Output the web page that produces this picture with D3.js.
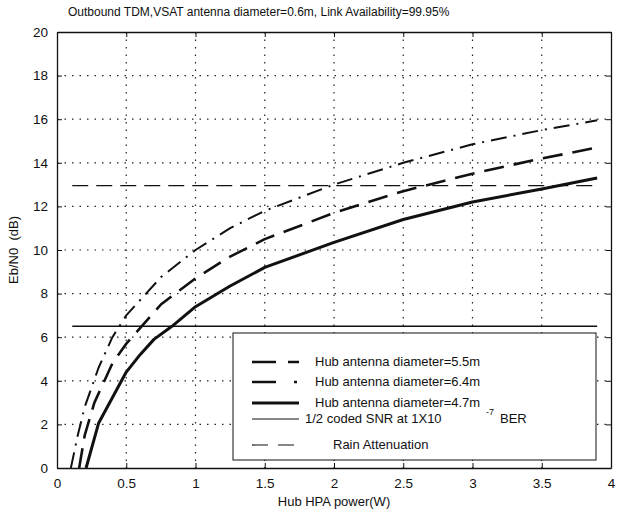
<!DOCTYPE html>
<html>
<head>
<meta charset="utf-8">
<script src="https://cdn.jsdelivr.net/npm/d3@7"></script>
<style>
  body { margin: 0; background: #fff; }
  text { font-family: "Liberation Sans", Arial, sans-serif; fill: #111; white-space: pre; }
</style>
</head>
<body>
<svg id="chart" width="620" height="513"></svg>
<script>
// power (W) and Eb/N0 (dB)
const hub64X = [0.1, 0.15, 0.2, 0.3, 0.4, 0.5, 0.75, 1, 1.25, 1.5, 2, 2.5, 3, 3.5, 3.9];
const hub64Y = [0, 1.5, 2.8, 4.6, 6.0, 7.0, 8.75, 10.0, 11.0, 11.8, 13.0, 14.0, 14.85, 15.5, 15.95];
const hub55X = [0.16, 0.2, 0.27, 0.4, 0.5, 0.75, 1, 1.25, 1.5, 2, 2.5, 3, 3.5, 3.9];
const hub55Y = [0, 1.5, 3.0, 4.8, 5.7, 7.5, 8.7, 9.7, 10.5, 11.7, 12.7, 13.5, 14.2, 14.7];
const hub47X = [0.21, 0.3, 0.5, 0.6, 0.7, 0.83, 1, 1.25, 1.5, 2, 2.5, 3, 3.5, 3.9];
const hub47Y = [0, 2.05, 4.4, 5.2, 5.9, 6.5, 7.4, 8.35, 9.2, 10.35, 11.4, 12.2, 12.8, 13.3];
const snrX = [0.11, 3.9];
const snrY = [6.5, 6.5];
const rainX = [0.11, 3.9];
const rainY = [12.95, 12.95];

const xTicks = [0, 0.5, 1, 1.5, 2, 2.5, 3, 3.5, 4];
const xTickLabels = ["0", "0.5", "1", "1.5", "2", "2.5", "3", "3.5", "4"];
const yTicks = [0, 2, 4, 6, 8, 10, 12, 14, 16, 18, 20];

const margin = { top: 32, right: 9, bottom: 45, left: 57 };
const width = 620 - margin.left - margin.right;
const height = 513 - margin.top - margin.bottom;

const svg = d3.select("#chart");
const g = svg.append("g").attr("transform", `translate(${margin.left},${margin.top})`);

const x = d3.scaleLinear().domain([0, 4]).range([0, width]);
const y = d3.scaleLinear().domain([0, 20]).range([height, 0]);

// dotted grid
g.append("g")
  .selectAll("line.vg")
  .data(xTicks.slice(1, -1))
  .join("line")
  .attr("x1", d => x(d)).attr("x2", d => x(d))
  .attr("y1", 0).attr("y2", height)
  .attr("stroke", "#222").attr("stroke-width", 1.2)
  .attr("stroke-dasharray", "1.5,6");
g.append("g")
  .selectAll("line.hg")
  .data(yTicks.slice(1, -1))
  .join("line")
  .attr("x1", 0).attr("x2", width)
  .attr("y1", d => y(d)).attr("y2", d => y(d))
  .attr("stroke", "#222").attr("stroke-width", 1.2)
  .attr("stroke-dasharray", "1.5,6");

// axes, ticks inward like matlab
const bottomAxis = d3.axisBottom(x).tickValues(xTicks)
  .tickFormat((d, i) => xTickLabels[i]).tickSizeInner(-5).tickSizeOuter(0).tickPadding(10);
const leftAxis = d3.axisLeft(y).tickValues(yTicks).tickSizeInner(-5).tickSizeOuter(0).tickPadding(9);

g.append("g").attr("transform", `translate(0,${height})`).call(bottomAxis)
  .call(a => a.selectAll("text").attr("font-size", 13.5));
g.append("g").call(leftAxis)
  .call(a => a.selectAll("text").attr("font-size", 13.5));
g.append("g").call(d3.axisTop(x).tickValues(xTicks).tickFormat("").tickSizeInner(-5).tickSizeOuter(0));
g.append("g").attr("transform", `translate(${width},0)`)
  .call(d3.axisRight(y).tickValues(yTicks).tickFormat("").tickSizeInner(-5).tickSizeOuter(0));
g.selectAll(".domain").attr("stroke", "#111").attr("stroke-width", 1.3);
g.selectAll(".tick line").attr("stroke", "#111");

const line = d3.line().x(d => x(d[0])).y(d => y(d[1]));
const pts = (xs, ys) => xs.map((v, i) => [v, ys[i]]);

const series = [
  { xs: snrX, ys: snrY, w: 1.4, dash: null },
  { xs: rainX, ys: rainY, w: 1.3, dash: "16,8" },
  { xs: hub64X, ys: hub64Y, w: 2, dash: "16,7,2,7" },
  { xs: hub55X, ys: hub55Y, w: 2.6, dash: "20,10" },
  { xs: hub47X, ys: hub47Y, w: 3, dash: null }
];

g.selectAll("path.curve")
  .data(series)
  .join("path")
  .attr("class", "curve")
  .attr("d", d => line(pts(d.xs, d.ys)))
  .attr("fill", "none")
  .attr("stroke", "#111")
  .attr("stroke-width", d => d.w)
  .attr("stroke-linejoin", "round")
  .attr("stroke-dasharray", d => d.dash);

// legend
const lg = svg.append("g").attr("transform", "translate(233,333)");
lg.append("rect").attr("width", 363).attr("height", 127)
  .attr("fill", "#fff").attr("stroke", "#111").attr("stroke-width", 1);

const legendRows = [
  { w: 2.6, dash: "24,12", y: 29, tx: 82, label: "Hub antenna diameter=5.5m" },
  { w: 2.6, dash: "24,18,3,30", y: 49, tx: 82, label: "Hub antenna diameter=6.4m" },
  { w: 3, dash: null, y: 70, tx: 82, label: "Hub antenna diameter=4.7m" },
  { w: 1.2, dash: null, y: 86, tx: 72, label: "1/2 coded SNR at 1X10" },
  { w: 1.2, dash: "16,10", y: 112, tx: 100, label: "Rain Attenuation" }
];
legendRows.forEach(r => {
  lg.append("line").attr("x1", 19).attr("x2", 66).attr("y1", r.y).attr("y2", r.y)
    .attr("stroke", "#111").attr("stroke-width", r.w).attr("stroke-dasharray", r.dash);
  lg.append("text").attr("x", r.tx).attr("y", r.y + 4).attr("font-size", 13).text(r.label);
});
lg.append("text").attr("x", 253).attr("y", 82).attr("font-size", 9).text("-7");
lg.append("text").attr("x", 267).attr("y", 90).attr("font-size", 13).text("BER");

// titles
svg.append("text").attr("x", 68).attr("y", 16).attr("font-size", 12)
  .text("Outbound TDM,VSAT antenna diameter=0.6m, Link Availability=99.95%");
svg.append("text").attr("x", margin.left + width / 2).attr("y", 506)
  .attr("text-anchor", "middle").attr("font-size", 13).text("Hub HPA power(W)");
svg.append("text").attr("transform", "translate(18,250) rotate(-90)")
  .attr("text-anchor", "middle").attr("font-size", 13).text("Eb/N0  (dB)");
</script>
</body>
</html>
